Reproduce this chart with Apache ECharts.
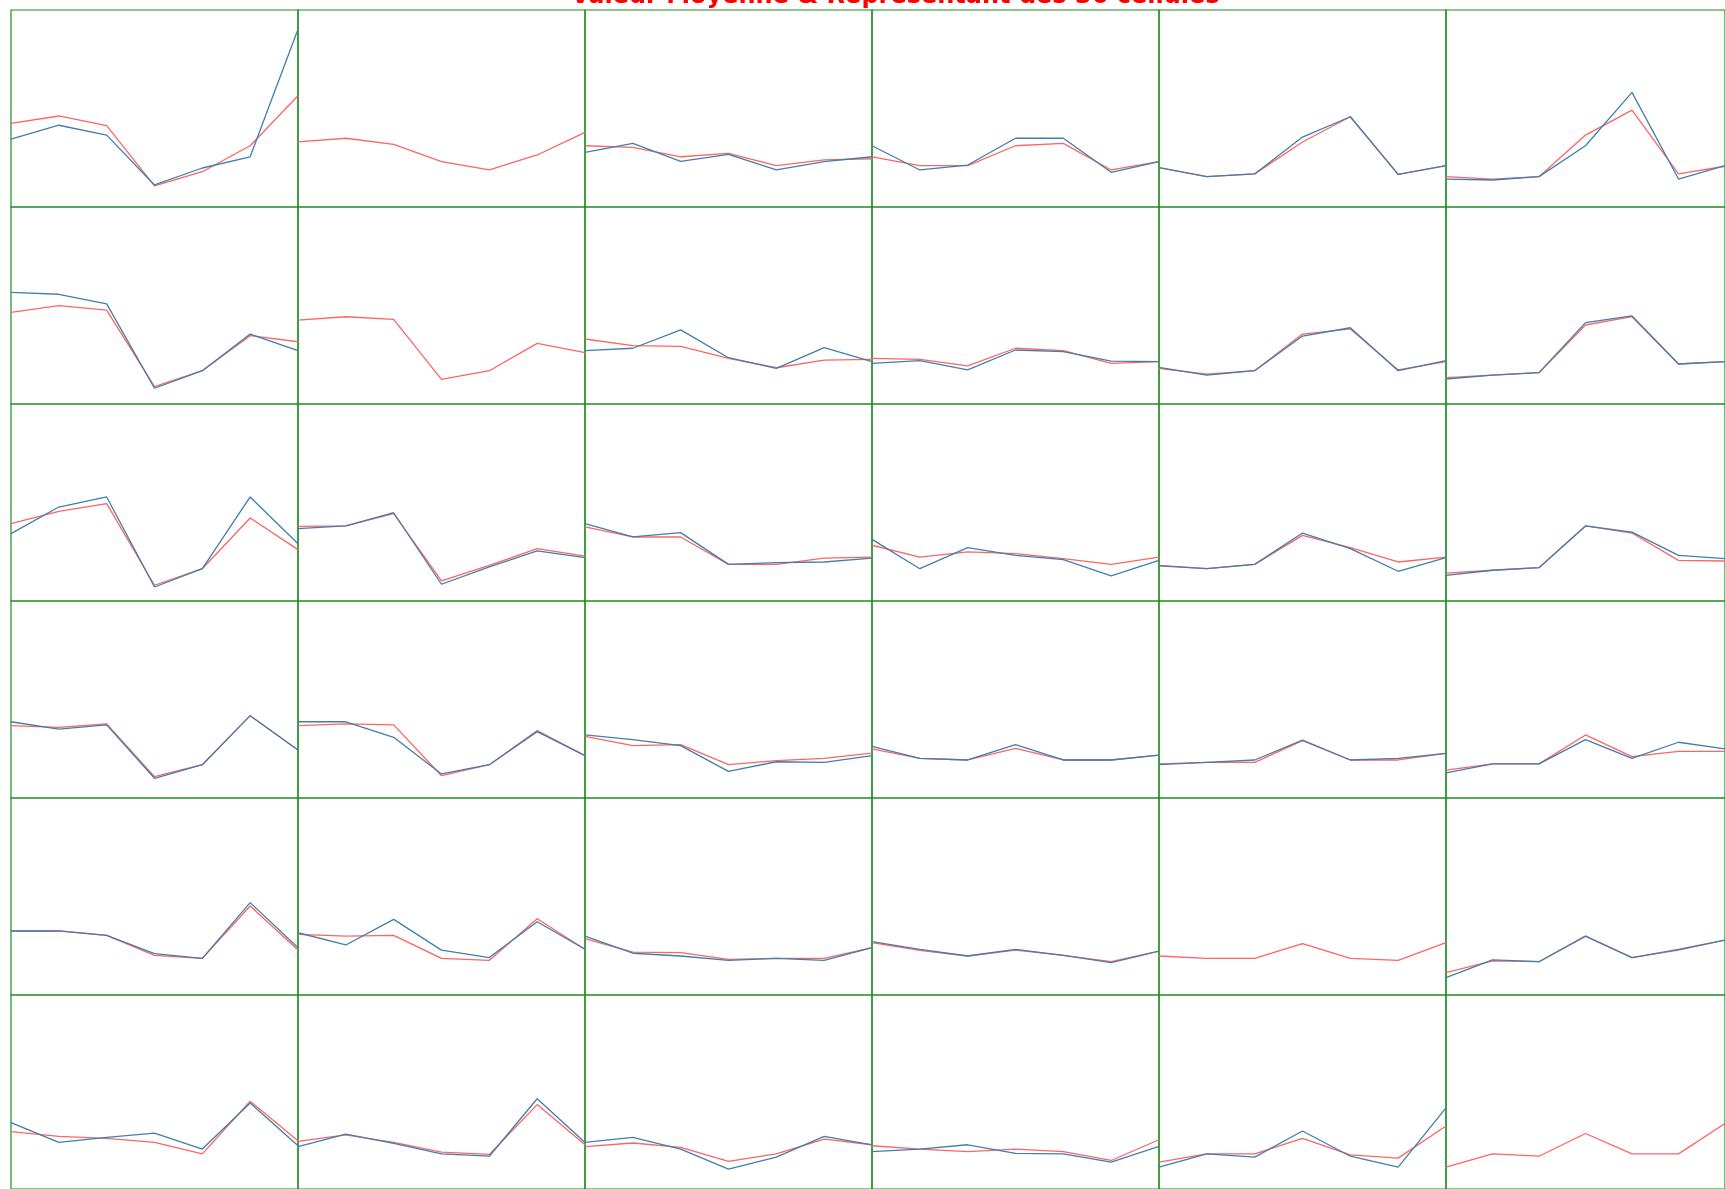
<!DOCTYPE html>
<html>
<head>
<meta charset="utf-8">
<script src="https://cdn.jsdelivr.net/npm/echarts@6/dist/echarts.min.js"></script>
<style>html,body{margin:0;padding:0;background:#fff;}#c{width:1725px;height:1189px;}</style>
</head>
<body>
<div id="c"></div>
<script>
const titleText = 'Valeur Moyenne & Representant des 36 cellules';
const categories = ['1','2','3','4','5','6','7'];

// Red: valeur moyenne, one array of 6 cells per row
const moyenne1 = [
  [42.5,46.2,41.3,10.7,17.9,31.1,56.5],
  [33.1,34.9,31.8,23.0,18.8,26.4,37.9],
  [31.1,30.3,25.5,27.2,21.0,23.9,24.5],
  [25.5,21.0,21.0,31.1,32.3,18.8,23.0],
  [20.0,15.4,16.8,33.0,45.8,16.6,21.0],
  [15.4,14.2,15.4,36.5,49.2,16.8,20.7]
];
const moyenne2 = [
  [46.5,49.9,47.7,8.8,16.9,34.7,31.6],
  [42.6,44.3,43.0,12.5,16.9,30.8,26.1],
  [33.0,29.6,29.3,23.2,18.4,22.3,22.7],
  [23.2,22.7,19.3,28.3,27.1,20.6,21.5],
  [18.1,15.1,16.9,35.5,38.1,17.3,21.5],
  [13.4,14.7,15.9,40.1,44.3,20.3,21.5]
];
const moyenne3 = [
  [39.3,45.5,49.4,8.0,16.4,42.1,26.1],
  [37.9,38.1,44.3,10.2,18.1,26.6,22.8],
  [37.6,32.5,32.5,18.6,18.6,21.8,22.3],
  [28.3,22.3,24.9,24.0,21.5,18.6,22.3],
  [18.1,16.4,18.6,33.3,27.1,19.8,22.3],
  [14.2,15.6,16.9,38.1,34.5,20.6,20.3]
];
const moyenne4 = [
  [36.7,35.9,37.6,10.8,16.9,41.8,24.4],
  [36.7,37.6,37.1,11.3,16.9,34.2,21.5],
  [31.3,26.6,27.1,16.9,19.0,20.1,22.8],
  [24.9,20.1,19.3,25.2,19.3,19.3,21.8],
  [17.3,18.1,18.1,29.1,19.3,19.3,22.7],
  [14.2,17.3,17.3,32.0,21.0,23.7,23.7]
];
const moyenne5 = [
  [32.5,32.5,30.3,20.1,18.6,45.2,22.8],
  [30.8,29.9,30.3,18.6,17.6,38.7,23.2],
  [28.6,21.8,21.5,18.1,18.6,18.6,24.0],
  [26.6,22.7,19.8,22.8,20.1,16.9,22.3],
  [19.8,18.6,18.6,26.1,18.6,17.6,26.6],
  [11.3,17.3,16.9,29.9,19.0,22.8,27.9]
];
const moyenne6 = [
  [29.6,27.1,26.1,24.0,18.1,45.2,24.9],
  [24.5,27.9,24.0,19.0,17.8,43.5,22.8],
  [21.8,23.7,21.5,14.2,18.1,25.7,22.8],
  [22.3,20.6,19.3,20.6,19.3,14.7,25.4],
  [13.9,18.1,18.1,26.1,17.6,15.9,32.5],
  [11.3,18.1,16.9,28.6,18.1,18.1,33.8]
];

// Blue: representant (null = no representative drawn)
const representant1 = [
  [34.4,41.5,36.5,11.2,19.8,25.5,90.2],
  null,
  [27.7,32.3,23.2,26.7,18.8,23.0,25.5],
  [31.1,18.8,21.3,34.9,34.9,17.6,23.0],
  [20.0,15.4,16.8,35.5,45.8,16.6,21.0],
  [14.2,13.7,15.4,31.1,58.2,14.2,21.0]
];
const representant2 = [
  [56.7,55.7,50.8,8.0,16.9,35.5,27.1],
  null,
  [27.1,28.3,37.6,23.5,18.1,28.6,21.5],
  [20.6,22.0,17.3,27.4,26.6,21.8,21.5],
  [18.6,14.7,16.9,34.5,38.7,16.9,22.0],
  [12.7,14.7,15.9,41.3,44.7,20.3,21.5]
];
const representant3 = [
  [34.2,47.7,52.8,7.1,16.4,52.8,29.1],
  [36.7,38.1,44.8,8.5,17.3,25.4,22.0],
  [39.3,32.5,34.7,18.6,19.5,19.8,21.8],
  [31.3,16.4,27.1,23.2,21.0,12.7,20.6],
  [17.8,16.4,18.6,34.5,26.6,15.1,22.0],
  [13.0,15.6,16.9,38.1,35.0,23.2,21.5]
];
const representant4 = [
  [38.7,35.0,37.1,10.0,16.9,41.8,24.4],
  [38.7,38.7,30.8,12.2,16.9,33.7,21.5],
  [32.0,29.6,26.6,13.5,18.4,18.1,21.5],
  [26.2,20.1,19.3,27.1,19.3,19.3,21.8],
  [16.9,18.1,19.3,29.4,19.3,20.1,22.7],
  [12.7,17.3,17.3,29.6,20.1,28.3,24.9]
];
const representant5 = [
  [32.5,32.5,30.3,21.0,18.6,46.9,24.0],
  [31.6,25.4,38.4,22.8,19.0,37.2,23.2],
  [29.9,21.2,19.8,17.6,18.6,17.6,24.0],
  [27.1,23.2,19.8,23.2,20.1,16.4,22.3],
  null,
  [8.8,17.8,16.9,29.9,19.0,23.2,27.9]
];
const representant6 = [
  [34.2,24.0,26.6,28.8,20.6,44.3,22.3],
  [21.8,28.3,23.5,18.1,16.9,46.5,24.0],
  [24.0,26.6,20.6,10.2,16.4,27.1,22.8],
  [19.3,20.6,22.8,18.4,18.1,13.9,22.0],
  [11.3,18.1,16.4,29.9,16.9,11.3,41.8],
  null
];

const moyenneRows = [moyenne1, moyenne2, moyenne3, moyenne4, moyenne5, moyenne6];
const representantRows = [representant1, representant2, representant3, representant4, representant5, representant6];

const chart = echarts.init(document.getElementById('c'), null, {renderer: 'canvas'});
const grids = [], xAxes = [], yAxes = [], series = [];
const cellW = 287, cellH = 197, left0 = 11, top0 = 10;
let idx = 0;
for (let r = 0; r < 6; r++) {
  for (let c = 0; c < 6; c++) {
    grids.push({
      left: left0 + c * cellW, top: top0 + r * cellH, width: cellW, height: cellH,
      show: true, borderColor: '#1e8c1e', borderWidth: 1.2, backgroundColor: 'transparent',
      containLabel: false
    });
    xAxes.push({type: 'category', gridIndex: idx, data: categories, boundaryGap: false, show: false});
    yAxes.push({type: 'value', gridIndex: idx, min: 0, max: 100, show: false});
    series.push({
      type: 'line', xAxisIndex: idx, yAxisIndex: idx, data: moyenneRows[r][c],
      showSymbol: false, symbol: 'none', clip: false,
      lineStyle: {color: '#ff6464', width: 1.3}, itemStyle: {color: '#ff6464'}, z: 2
    });
    if (representantRows[r][c]) {
      series.push({
        type: 'line', xAxisIndex: idx, yAxisIndex: idx, data: representantRows[r][c],
        showSymbol: false, symbol: 'none', clip: false,
        lineStyle: {color: '#3f7fae', width: 1.3}, itemStyle: {color: '#3f7fae'}, z: 3
      });
    }
    idx++;
  }
}
chart.setOption({
  animation: false,
  backgroundColor: '#ffffff',
  title: {
    text: titleText, left: 566, top: -20,
    textStyle: {color: '#ff0000', fontSize: 24, fontWeight: 'bold', fontFamily: 'DejaVu Sans'}
  },
  grid: grids, xAxis: xAxes, yAxis: yAxes, series: series
});
</script>
</body>
</html>
